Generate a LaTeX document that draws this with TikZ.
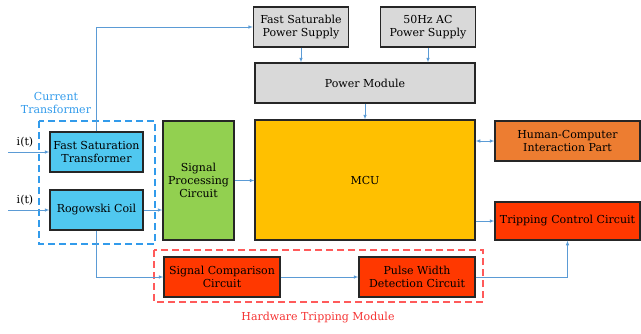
\documentclass[tikz,border=0pt]{standalone}
\usepackage{fontspec}
\setmainfont{DejaVu Serif}
\usetikzlibrary{positioning}
\definecolor{linkblue}{RGB}{91,155,213}
\definecolor{ctblue}{RGB}{50,155,235}
\definecolor{boxcyan}{RGB}{80,200,240}
\definecolor{boxgray}{RGB}{217,217,217}
\definecolor{boxyellow}{RGB}{255,192,0}
\definecolor{boxgreen}{RGB}{146,208,80}
\definecolor{boxorange}{RGB}{237,125,49}
\definecolor{boxred}{RGB}{255,56,0}
\definecolor{htmred}{RGB}{255,90,90}
\definecolor{htmtext}{RGB}{245,50,50}
\begin{document}
\begin{tikzpicture}[
	x=1pt, y=-1pt,
	block/.style={rectangle, draw=black!85, line width=1.3pt, inner sep=1pt, align=center, font=\rmfamily\fontsize{11}{13}\selectfont},
	supply/.style={block, fill=boxgray, minimum width=95pt, minimum height=40pt},
	sensor/.style={block, fill=boxcyan, minimum width=93pt, minimum height=40pt},
	trip/.style={block, fill=boxred, minimum width=116pt, minimum height=40pt},
	group/.style={line width=1.15pt, dash pattern=on 7pt off 4pt},
	arrow/.style={-latex, line width=0.6pt, draw=linkblue}
]
\useasboundingbox (0,0) rectangle (641,333);
% power supply part
\node (fsps) [supply] at (301,27) {Fast Saturable\\Power Supply};
\node (acps) [supply] at (428,27) {50Hz AC\\Power Supply};
\node (pm) [block, fill=boxgray, minimum width=220pt, minimum height=40pt] at (365,83) {Power Module};
\node (mcu) [block, fill=boxyellow, minimum width=220pt, minimum height=120pt] at (365,180) {MCU};
\node (spc) [block, fill=boxgreen, minimum width=71pt, minimum height=119pt] at (198.5,180.5) {Signal\\Processing\\Circuit};
% current transformer
\node (fst) [sensor] at (96.5,152) {Fast Saturation\\Transformer};
\node (rc) [sensor] at (96.5,210) {Rogowski Coil};
\draw [group, draw=ctblue] (39,121) rectangle (155,244);
\node (ctlabel) [align=center, text=ctblue, font=\rmfamily\fontsize{11}{13}\selectfont] at (56,103) {Current\\Transformer};
\node (it1) [font=\rmfamily\fontsize{11}{12}\selectfont] at (25,142) {i(t)};
\node (it2) [font=\rmfamily\fontsize{11}{12}\selectfont] at (25,200) {i(t)};
\coordinate (in1) at (8,152);
\coordinate (in2) at (8,210);
% outputs
\node (hci) [block, fill=boxorange, minimum width=145pt, minimum height=40pt] at (567.5,141) {Human-Computer\\Interaction Part};
\node (tcc) [block, fill=boxred, minimum width=145pt, minimum height=38pt] at (567.5,221) {Tripping Control Circuit};
% hardware tripping
\node (scc) [trip] at (222,277) {Signal Comparison\\Circuit};
\node (pwd) [trip] at (417,277) {Pulse Width\\Detection Circuit};
\draw [group, draw=htmred] (154,250) rectangle (483,302);
\node (htmlabel) [text=htmtext, font=\rmfamily\fontsize{11}{13}\selectfont] at (318,318) {Hardware Tripping Module};
% connectors
\draw [arrow] (in1) -- (fst.west);
\draw [arrow] (in2) -- (rc.west);
\draw [arrow] (fst.north) |- (fsps.west);
\draw [arrow] (rc.east) -- (rc.east -| spc.west);
\draw [arrow] (rc.south) |- (scc.west);
\draw [arrow] (spc.east) -- (spc.east -| mcu.west);
\draw [arrow] (fsps.south) -- (fsps.south |- pm.north);
\draw [arrow] (acps.south) -- (acps.south |- pm.north);
\draw [arrow] (pm.south) -- (mcu.north);
\draw [latex-latex, line width=0.6pt, draw=linkblue] (hci.west -| mcu.east) -- (hci.west);
\draw [arrow] (tcc.west -| mcu.east) -- (tcc.west);
\draw [arrow] (scc.east) -- (pwd.west);
\draw [arrow] (pwd.east) -| (tcc.south);
\end{tikzpicture}
\end{document}
